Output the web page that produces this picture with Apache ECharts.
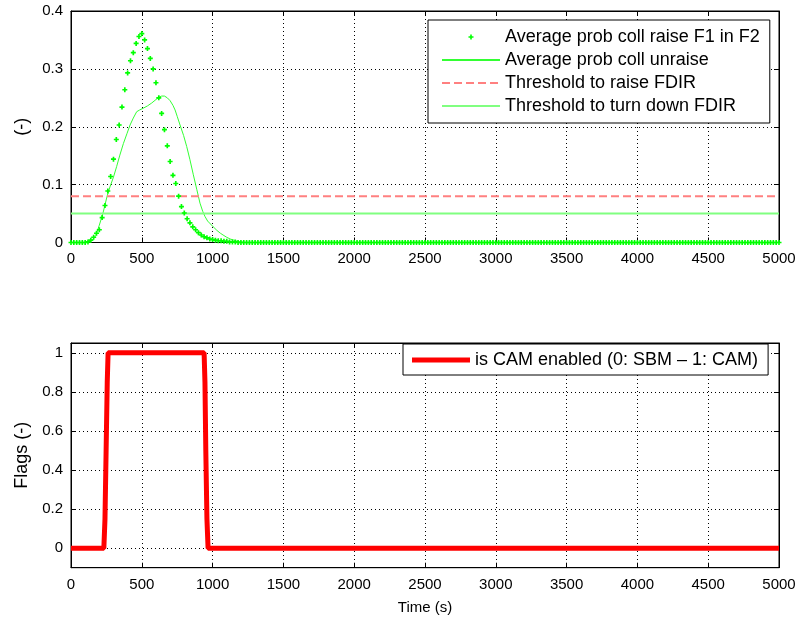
<!DOCTYPE html>
<html>
<head>
<meta charset="utf-8">
<script src="https://cdn.jsdelivr.net/npm/echarts@6/dist/echarts.min.js"></script>
<style>
  html, body { margin: 0; padding: 0; background: #fff; }
  #chart { width: 799px; height: 621px; }
</style>
</head>
<body>
<div id="chart"></div>
<script>
// sample grid of the marker series (s)
const raiseStep = 20;
// Average prob coll raise F1 in F2, one value every 20 s from t = 0
const raiseValues = [
  0, 0, 0, 0, 0, 0, 0.001, 0.004, 0.009, 0.016,
  0.022, 0.043, 0.064, 0.089, 0.114, 0.144, 0.178, 0.203, 0.234, 0.264,
  0.293, 0.314, 0.328, 0.344, 0.356, 0.361, 0.350, 0.335, 0.318, 0.300,
  0.276, 0.250, 0.223, 0.195, 0.167, 0.140, 0.116, 0.102, 0.080, 0.062,
  0.051, 0.041, 0.034, 0.027, 0.022, 0.017, 0.013, 0.010, 0.008, 0.006,
  0.005, 0.004, 0.003, 0.003, 0.002, 0.002, 0.001, 0.001, 0.001, 0, 0,
  0, 0, 0, 0, 0, 0, 0, 0, 0, 0, 0, 0, 0, 0, 0, 0, 0, 0, 0,
  0, 0, 0, 0, 0, 0, 0, 0, 0, 0, 0, 0, 0, 0, 0, 0, 0, 0, 0,
  0, 0, 0, 0, 0, 0, 0, 0, 0, 0, 0, 0, 0, 0, 0, 0, 0, 0, 0,
  0, 0, 0, 0, 0, 0, 0, 0, 0, 0, 0, 0, 0, 0, 0, 0, 0, 0, 0,
  0, 0, 0, 0, 0, 0, 0, 0, 0, 0, 0, 0, 0, 0, 0, 0, 0, 0, 0,
  0, 0, 0, 0, 0, 0, 0, 0, 0, 0, 0, 0, 0, 0, 0, 0, 0, 0, 0,
  0, 0, 0, 0, 0, 0, 0, 0, 0, 0, 0, 0, 0, 0, 0, 0, 0, 0, 0,
  0, 0, 0, 0, 0, 0, 0, 0, 0, 0, 0, 0, 0, 0, 0, 0, 0, 0, 0,
  0, 0, 0, 0, 0, 0, 0, 0, 0, 0, 0, 0, 0, 0, 0, 0, 0, 0, 0,
  0, 0, 0, 0, 0, 0, 0, 0, 0, 0, 0, 0, 0, 0, 0, 0, 0, 0, 0
];

// Average prob coll unraise
const unraiseTimes = [0, 120, 150, 175, 200, 225, 255, 275, 300, 322, 345, 370, 395, 417, 440, 464, 485, 510, 540, 570,
  600, 620, 640, 660, 680, 700, 720, 735, 750, 770, 795, 817, 840, 864, 888, 911, 930, 946, 965, 985,
  1005, 1030, 1055, 1080, 1100, 1125, 1150, 1170, 1200, 1230, 5000];
const unraiseValues = [0, 0, 0.004, 0.012, 0.030, 0.050, 0.080, 0.096, 0.113, 0.131, 0.151, 0.171, 0.188, 0.203, 0.215, 0.226, 0.229, 0.232, 0.236, 0.241,
  0.247, 0.251, 0.253, 0.253, 0.250, 0.245, 0.237, 0.229, 0.218, 0.203, 0.185, 0.166, 0.143, 0.117, 0.092, 0.068, 0.054, 0.045, 0.037, 0.032,
  0.027, 0.021, 0.016, 0.012, 0.009, 0.006, 0.004, 0.0026, 0.001, 0, 0];

const thresholdTimes = [0, 5000];
const raiseThreshold = [0.08, 0.08];
const turnDownThreshold = [0.05, 0.05];

// is CAM enabled flag
const camTimes = [0, 232, 240, 248, 256, 262, 940, 946, 952, 960, 968, 5000];
const camValues = [0, 0, 0.15, 0.5, 0.85, 1, 1, 0.85, 0.5, 0.15, 0, 0];

const xTicks = { min: 0, max: 5000, interval: 500 };
const topYTicks = { min: 0, max: 0.4, interval: 0.1 };
const flagTicks = [0, 0.2, 0.4, 0.6, 0.8, 1];

const pairs = (xs, ys) => xs.map((x, i) => [x, ys[i]]);
const raiseData = raiseValues.map((v, i) => [i * raiseStep, v]);

const font = 'Liberation Sans, Arial, Helvetica, sans-serif';
const gridLine = { show: true, lineStyle: { color: '#000', type: [1, 3], width: 1 } };
const axisLine = { show: true, onZero: false, lineStyle: { color: '#000', width: 1 } };
const tick = { show: true, inside: true, length: 5, lineStyle: { color: '#000' } };
const label = { color: '#000', fontSize: 15, fontFamily: font, formatter: v => String(v) };
const nameStyle = { color: '#000', fontSize: 15, fontFamily: font };
const yNameStyle = { color: '#000', fontSize: 18, fontFamily: font };
const legendText = { color: '#000', fontSize: 18, fontFamily: font };
// small plus centred in a 58x14 legend slot
const plusIcon = 'path://M0,0M58,14M28.2,4.5h1.6v1.7h1.7v1.6h-1.7v1.7h-1.6v-1.7h-1.7v-1.6h1.7z';
// thick bar for the flag legend
const thickLine = 'path://M0,0M58,14M0,4.5h58v5h-58z';
const noSymbol = { opacity: 0 };

const chart = echarts.init(document.getElementById('chart'));

const option = {
  animation: false,
  backgroundColor: '#fff',
  grid: [
    { left: 71, right: 20, top: 11, height: 231.5, show: true, borderColor: '#000', borderWidth: 1 },
    { left: 71, right: 20, top: 343, height: 224.7, show: true, borderColor: '#000', borderWidth: 1 }
  ],
  xAxis: [
    { type: 'value', gridIndex: 0, ...xTicks, axisLine, axisTick: tick, splitLine: gridLine,
      axisLabel: { ...label, margin: 9 } },
    { type: 'value', gridIndex: 0, position: 'top', ...xTicks, axisLine, axisTick: tick,
      splitLine: { show: false }, axisLabel: { show: false } },
    { type: 'value', gridIndex: 1, ...xTicks, axisLine, axisTick: tick, splitLine: gridLine,
      axisLabel: { ...label, margin: 10 },
      name: 'Time (s)', nameLocation: 'middle', nameGap: 33, nameTextStyle: nameStyle },
    { type: 'value', gridIndex: 1, position: 'top', ...xTicks, axisLine, axisTick: tick,
      splitLine: { show: false }, axisLabel: { show: false } }
  ],
  yAxis: [
    { type: 'value', gridIndex: 0, ...topYTicks, axisLine, axisTick: tick, splitLine: gridLine,
      axisLabel: { ...label, margin: 8 },
      name: '(-)', nameLocation: 'middle', nameGap: 40, nameTextStyle: yNameStyle },
    { type: 'value', gridIndex: 0, position: 'right', ...topYTicks, axisLine, axisTick: tick,
      splitLine: { show: false }, axisLabel: { show: false } },
    { type: 'value', gridIndex: 1, min: -0.1, max: 1.05, axisLine,
      axisTick: { ...tick, customValues: flagTicks },
      splitLine: gridLine,
      axisLabel: { ...label, margin: 8, customValues: flagTicks },
      name: 'Flags (-)', nameLocation: 'middle', nameGap: 40, nameTextStyle: yNameStyle },
    { type: 'value', gridIndex: 1, position: 'right', min: -0.1, max: 1.05, axisLine,
      axisTick: { ...tick, customValues: flagTicks },
      splitLine: { show: false }, axisLabel: { show: false, customValues: flagTicks } }
  ],
  legend: [
    {
      left: 428, top: 20, orient: 'vertical',
      itemWidth: 58, itemHeight: 14, itemGap: 5,
      padding: [8, 10, 8, 13],
      backgroundColor: '#fff', borderColor: '#000', borderWidth: 1, borderRadius: 0,
      textStyle: legendText,
      data: [
        { name: 'Average prob coll raise F1 in F2', icon: plusIcon },
        { name: 'Average prob coll unraise', itemStyle: noSymbol },
        { name: 'Threshold to raise FDIR', itemStyle: noSymbol },
        { name: 'Threshold to turn down FDIR', itemStyle: noSymbol }
      ]
    },
    {
      left: 403, top: 344, orient: 'vertical',
      itemWidth: 58, itemHeight: 14,
      padding: [7, 10, 6, 9],
      backgroundColor: '#fff', borderColor: '#000', borderWidth: 1, borderRadius: 0,
      textStyle: legendText,
      data: [{ name: 'is CAM enabled (0: SBM \u2013 1: CAM)', icon: thickLine }]
    }
  ],
  series: [
    {
      name: 'Average prob coll raise F1 in F2', type: 'line', xAxisIndex: 0, yAxisIndex: 0,
      data: raiseData, showAllSymbol: true,
      symbol: 'path://M1,0h1v1h1v1h-1v1h-1v-1h-1v-1h1z', symbolSize: 5,
      itemStyle: { color: '#00ff00' }, lineStyle: { width: 0, opacity: 0 }
    },
    {
      name: 'Average prob coll unraise', type: 'line', xAxisIndex: 0, yAxisIndex: 0,
      data: pairs(unraiseTimes, unraiseValues), symbol: 'none',
      itemStyle: { color: '#33ff33' }, lineStyle: { color: '#33ff33', width: 1 }
    },
    {
      name: 'Threshold to raise FDIR', type: 'line', xAxisIndex: 0, yAxisIndex: 0,
      data: pairs(thresholdTimes, raiseThreshold), symbol: 'none',
      itemStyle: { color: '#ff8080' }, lineStyle: { color: '#ff8080', width: 2, type: [8, 4] }
    },
    {
      name: 'Threshold to turn down FDIR', type: 'line', xAxisIndex: 0, yAxisIndex: 0,
      data: pairs(thresholdTimes, turnDownThreshold), symbol: 'none',
      itemStyle: { color: '#80ff80' }, lineStyle: { color: '#80ff80', width: 2 }
    },
    {
      name: 'is CAM enabled (0: SBM \u2013 1: CAM)', type: 'line', xAxisIndex: 2, yAxisIndex: 2,
      data: pairs(camTimes, camValues), symbol: 'none',
      itemStyle: { color: '#ff0000' }, lineStyle: { color: '#ff0000', width: 5 }
    }
  ]
};

chart.setOption(option);
</script>
</body>
</html>
